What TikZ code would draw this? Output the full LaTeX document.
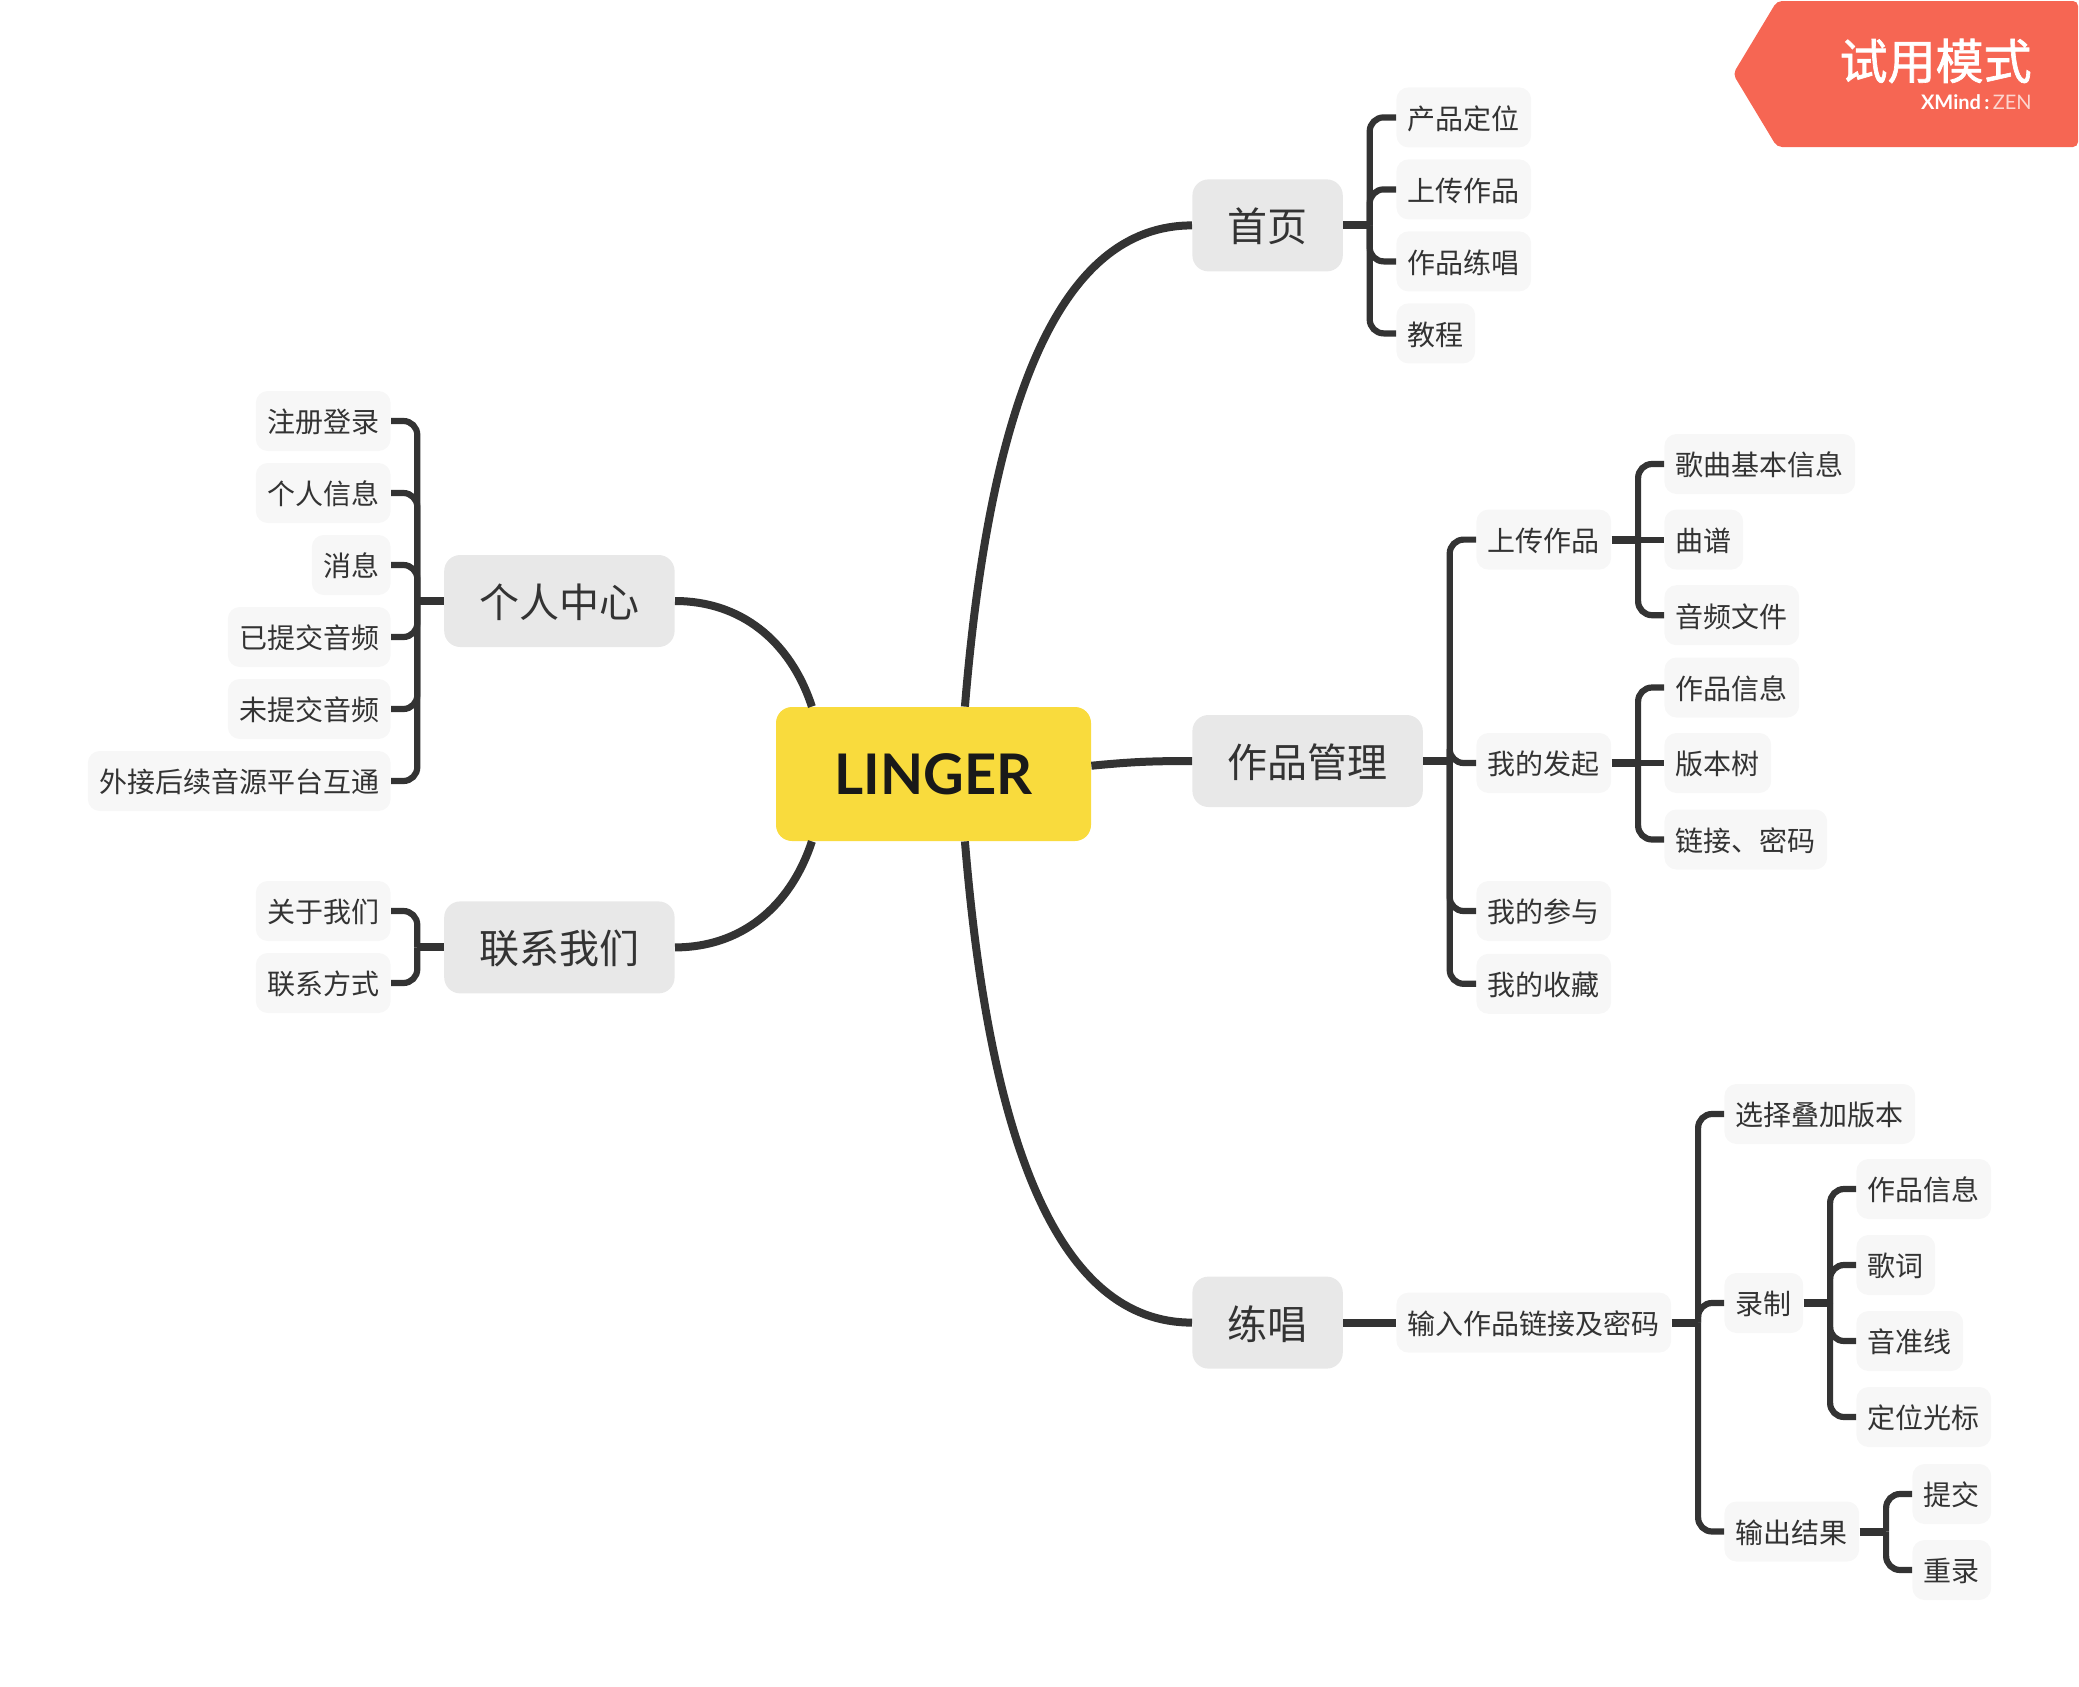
\documentclass[tikz,border=0pt]{standalone}
\usepackage{fontspec}
\setmainfont{Noto Sans CJK SC}
\newfontfamily\latinfont{Lato}
\newfontfamily\trialfont[FakeBold=1.4]{Noto Sans CJK SC}
\definecolor{inkgray}{HTML}{333333}
\definecolor{topicgray}{HTML}{E8E8E8}
\definecolor{leafgray}{HTML}{F7F7F7}
\definecolor{rootyellow}{HTML}{F9DB3D}
\definecolor{badgered}{HTML}{F66653}
\definecolor{zenpink}{HTML}{FCD5CF}
\begin{document}
\begin{tikzpicture}[x=0.5pt, y=-0.5pt,
        root/.style={rectangle,rounded corners=8pt,fill=rootyellow,text=black!90,minimum width=157.5pt,minimum height=67pt,inner sep=0pt,font=\latinfont\bfseries\fontsize{28}{32}\selectfont},
        topic/.style={rectangle,rounded corners=8pt,fill=topicgray,text=inkgray,minimum height=46pt,inner xsep=17.6pt,inner ysep=0pt,text height=17.8pt,text depth=1.4pt,font=\fontsize{20}{24}\selectfont},
        leaf/.style={rectangle,rounded corners=6pt,fill=leafgray,text=inkgray,minimum height=30pt,inner xsep=5.7pt,inner ysep=0pt,text height=12.5pt,text depth=0.6pt,font=\fontsize{14}{17}\selectfont},
        link/.style={draw=inkgray,line width=4pt},
        branch/.style={draw=inkgray,line width=3.1pt,rounded corners=7pt}]

        \useasboundingbox (0,0) rectangle (2079,1687);

        % trial badge
        \fill[badgered,rounded corners=2.5pt] (1733,74) -- (1777,1) -- (2078,1) -- (2078,147) -- (1777,147) -- cycle;
        \node[anchor=east,inner sep=0pt,text=white,font=\trialfont\fontsize{24}{28}\selectfont] (trial) at (2032,61) {试用模式};
        \node[anchor=base east,inner sep=0pt,text=white,font=\latinfont\fontsize{10}{12}\selectfont] (brand) at (2032,109) {\textbf{XMind\,:}\,\textcolor{zenpink}{ZEN}};

        % main topics
        \node[root] (linger) at (933.5,774) {LINGER};
        \node[topic,anchor=west] (home) at (1192,225.4) {首页};
        \node[topic,anchor=west] (works) at (1192,761) {作品管理};
        \node[topic,anchor=west] (sing) at (1192,1322.6) {练唱};
        \node[topic,anchor=east] (me) at (675,601) {个人中心};
        \node[topic,anchor=east] (contact) at (675,947.4) {联系我们};
        \draw[link] (linger.65.5) .. controls (990,400) and (1060,225.4) .. (home.west);
        \draw[link] (linger.-65.5) .. controls (990,1148) and (1060,1322.6) .. (sing.west);
        \draw[link] (linger.3.6) .. controls (1130,762) and (1150,761) .. (works.west);
        \draw[link] (linger.151.2) .. controls (790,640) and (740,601) .. (me.east);
        \draw[link] (linger.-151.2) .. controls (790,908) and (740,947.4) .. (contact.east);

        % home
        \node[leaf,anchor=west] (home1) at (1396,117.4) {产品定位};
        \node[leaf,anchor=west] (home2) at (1396,189.4) {上传作品};
        \node[leaf,anchor=west] (home3) at (1396,261.4) {作品练唱};
        \node[leaf,anchor=west] (home4) at (1396,333.4) {教程};
        \draw[link] (home.east) -- ++(26.5,0) coordinate (homebus);
        \draw[branch] (homebus) |- (home1.west);
        \draw[branch] (homebus) |- (home2.west);
        \draw[branch] (homebus) |- (home3.west);
        \draw[branch] (homebus) |- (home4.west);

        % personal centre
        \node[leaf,anchor=east] (me1) at (391,421) {注册登录};
        \node[leaf,anchor=east] (me2) at (391,493) {个人信息};
        \node[leaf,anchor=east] (me3) at (391,565) {消息};
        \node[leaf,anchor=east] (me4) at (391,637) {已提交音频};
        \node[leaf,anchor=east] (me5) at (391,709) {未提交音频};
        \node[leaf,anchor=east] (me6) at (391,781) {外接后续音源平台互通};
        \draw[link] (me.west) -- ++(-26.5,0) coordinate (mebus);
        \draw[branch] (mebus) |- (me1.east);
        \draw[branch] (mebus) |- (me2.east);
        \draw[branch] (mebus) |- (me3.east);
        \draw[branch] (mebus) |- (me4.east);
        \draw[branch] (mebus) |- (me5.east);
        \draw[branch] (mebus) |- (me6.east);

        % contact
        \node[leaf,anchor=east] (contact1) at (391,911) {关于我们};
        \node[leaf,anchor=east] (contact2) at (391,983) {联系方式};
        \draw[link] (contact.west) -- ++(-26.5,0) coordinate (contactbus);
        \draw[branch] (contactbus) |- (contact1.east);
        \draw[branch] (contactbus) |- (contact2.east);

        % works
        \node[leaf,anchor=west] (upload) at (1476,539.6) {上传作品};
        \node[leaf,anchor=west] (mine) at (1476,763) {我的发起};
        \node[leaf,anchor=west] (joined) at (1476,911) {我的参与};
        \node[leaf,anchor=west] (saved) at (1476,983.8) {我的收藏};
        \draw[link] (works.east) -- ++(26.5,0) coordinate (worksbus);
        \draw[branch] (worksbus) |- (upload.west);
        \draw[branch] (worksbus) |- (mine.west);
        \draw[branch] (worksbus) |- (joined.west);
        \draw[branch] (worksbus) |- (saved.west);

        \node[leaf,anchor=west] (upload1) at (1664,464) {歌曲基本信息};
        \node[leaf,anchor=west] (upload2) at (1664,539.6) {曲谱};
        \node[leaf,anchor=west] (upload3) at (1664,615.2) {音频文件};
        \draw[link] (upload.east) -- ++(26.5,0) coordinate (uploadbus);
        \draw[branch] (uploadbus) |- (upload1.west);
        \draw[branch] (uploadbus) -- (upload2.west);
        \draw[branch] (uploadbus) |- (upload3.west);

        \node[leaf,anchor=west] (mine1) at (1664,687.5) {作品信息};
        \node[leaf,anchor=west] (mine2) at (1664,763) {版本树};
        \node[leaf,anchor=west] (mine3) at (1664,839.5) {链接、密码};
        \draw[link] (mine.east) -- ++(26.5,0) coordinate (minebus);
        \draw[branch] (minebus) |- (mine1.west);
        \draw[branch] (minebus) -- (mine2.west);
        \draw[branch] (minebus) |- (mine3.west);

        % singing
        \node[leaf,anchor=west] (input) at (1396,1322.6) {输入作品链接及密码};
        \draw[link] (sing.east) -- (input.west);
        \node[leaf,anchor=west] (pick) at (1724,1114) {选择叠加版本};
        \node[leaf,anchor=west] (rec) at (1724,1303) {录制};
        \node[leaf,anchor=west] (out) at (1724,1531.5) {输出结果};
        \draw[link] (input.east) -- ++(26.5,0) coordinate (inputbus);
        \draw[branch] (inputbus) |- (pick.west);
        \draw[branch] (inputbus) |- (rec.west);
        \draw[branch] (inputbus) |- (out.west);

        \node[leaf,anchor=west] (rec1) at (1856,1189) {作品信息};
        \node[leaf,anchor=west] (rec2) at (1856,1265) {歌词};
        \node[leaf,anchor=west] (rec3) at (1856,1341) {音准线};
        \node[leaf,anchor=west] (rec4) at (1856,1417) {定位光标};
        \draw[link] (rec.east) -- ++(26.5,0) coordinate (recbus);
        \draw[branch] (recbus) |- (rec1.west);
        \draw[branch] (recbus) |- (rec2.west);
        \draw[branch] (recbus) |- (rec3.west);
        \draw[branch] (recbus) |- (rec4.west);

        \node[leaf,anchor=west] (out1) at (1912,1494) {提交};
        \node[leaf,anchor=west] (out2) at (1912,1570) {重录};
        \draw[link] (out.east) -- ++(26.5,0) coordinate (outbus);
        \draw[branch] (outbus) |- (out1.west);
        \draw[branch] (outbus) |- (out2.west);

    \end{tikzpicture}
\end{document}
